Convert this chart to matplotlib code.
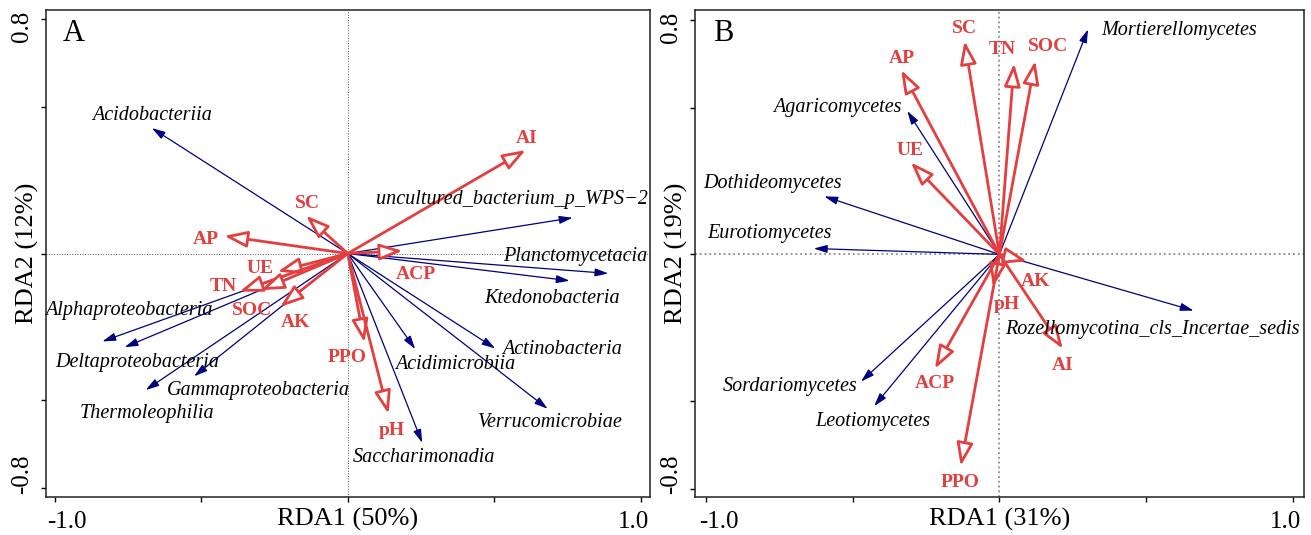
import matplotlib
matplotlib.use("Agg")
import matplotlib.pyplot as plt
from matplotlib.patches import FancyArrowPatch

plt.rcParams['font.family'] = ['Liberation Serif', 'DejaVu Serif']

# ---- panel A: bacteria ----
a_sp_names = ['Acidobacteriia', 'uncultured_bacterium_p_WPS\u22122', 'Planctomycetacia',
              'Ktedonobacteria', 'Actinobacteria', 'Verrucomicrobiae', 'Acidimicrobiia',
              'Saccharimonadia', 'Alphaproteobacteria', 'Deltaproteobacteria',
              'Thermoleophilia', 'Gammaproteobacteria']
a_sp_x = [-0.668, 0.767, 0.889, 0.757, 0.503, 0.682, 0.230, 0.254, -0.837, -0.761, -0.689, -0.524]
a_sp_y = [0.428, 0.122, -0.068, -0.093, -0.324, -0.530, -0.326, -0.646, -0.300, -0.320, -0.466, -0.419]
a_sp_lx = [-0.669, 0.559, 0.776, 0.697, 0.730, 0.690, 0.368, 0.261, -0.746, -0.717, -0.684, -0.306]
a_sp_ly = [0.470, 0.186, -0.010, -0.153, -0.329, -0.578, -0.378, -0.697, -0.194, -0.373, -0.547, -0.469]

a_env_names = ['AI', 'SC', 'AP', 'ACP', 'UE', 'TN', 'SOC', 'AK', 'PPO', 'pH']
a_env_x = [0.607, -0.142, -0.421, 0.187, -0.239, -0.369, -0.296, -0.230, 0.057, 0.139]
a_env_y = [0.353, 0.129, 0.060, 0.009, -0.062, -0.130, -0.125, -0.182, -0.303, -0.547]
a_env_lx = [0.610, -0.139, -0.483, 0.232, -0.299, -0.425, -0.327, -0.179, -0.003, 0.149]
a_env_ly = [0.391, 0.171, 0.048, -0.071, -0.050, -0.112, -0.194, -0.235, -0.354, -0.604]

# ---- panel B: fungi ----
b_sp_names = ['Mortierellomycetes', 'Agaricomycetes', 'Dothideomycetes', 'Eurotiomycetes',
              'Rozellomycotina_cls_Incertae_sedis', 'Sordariomycetes', 'Leotiomycetes']
b_sp_x = [0.302, -0.314, -0.597, -0.633, 0.662, -0.472, -0.427]
b_sp_y = [0.768, 0.489, 0.198, 0.020, -0.192, -0.434, -0.518]
b_sp_lx = [0.611, -0.552, -0.773, -0.784, 0.520, -0.712, -0.433]
b_sp_ly = [0.763, 0.500, 0.242, 0.070, -0.257, -0.452, -0.569]

b_env_names = ['SC', 'AP', 'TN', 'SOC', 'UE', 'AK', 'pH', 'AI', 'ACP', 'PPO']
b_env_x = [-0.119, -0.335, 0.050, 0.122, -0.302, 0.094, -0.022, 0.216, -0.220, -0.132]
b_env_y = [0.728, 0.629, 0.652, 0.660, 0.314, -0.023, -0.111, -0.322, -0.390, -0.722]
b_env_lx = [-0.120, -0.332, 0.008, 0.166, -0.306, 0.123, 0.025, 0.217, -0.221, -0.133]
b_env_ly = [0.771, 0.667, 0.699, 0.711, 0.356, -0.094, -0.171, -0.378, -0.442, -0.780]

RED = '#E53E3E'
NAVY = '#000080'


def draw_panel(ax, letter, xlab, ylab, sp, env, zero_style):
    sp_names, sp_x, sp_y, sp_lx, sp_ly = sp
    env_names, env_x, env_y, env_lx, env_ly = env
    # zero lines
    ax.axhline(0, zorder=1, **zero_style)
    ax.axvline(0, zorder=1, **zero_style)
    # species vectors (thin navy, filled small head)
    for n, x, y, lx, ly in zip(sp_names, sp_x, sp_y, sp_lx, sp_ly):
        arr = FancyArrowPatch((0, 0), (x, y), arrowstyle='-|>,head_length=8,head_width=2.4',
                              mutation_scale=1, lw=0.9, color=NAVY, shrinkA=0, shrinkB=0, zorder=3)
        ax.add_patch(arr)
        ax.text(lx, ly, n, style='italic', fontsize=14.5, ha='center', va='center', zorder=5)
    # environment vectors (thick red, open head)
    for n, x, y, lx, ly in zip(env_names, env_x, env_y, env_lx, env_ly):
        arr = FancyArrowPatch((0, 0), (x, y), arrowstyle='-|>,head_length=14,head_width=5',
                              mutation_scale=1, lw=2.0, ec=RED, fc='white', shrinkA=0, shrinkB=0,
                              zorder=4)
        ax.add_patch(arr)
        ax.text(lx, ly, n, color=RED, fontweight='bold', fontsize=14, ha='center', va='center',
                zorder=5)

    ax.text(0.046, 0.952, letter, transform=ax.transAxes, fontsize=22, ha='center', va='center')

    ax.set_xticks([-1.0, -0.5, 0.0, 0.5, 1.0])
    ax.set_yticks([-0.8, -0.5, 0.0, 0.5, 0.8])
    ax.set_xticklabels([])
    ax.set_yticklabels([])
    # labels sit a bit inward of their ticks, as in the original
    ax.set_xticks([-0.957, 0.974], labels=['-1.0', '1.0'], minor=True)
    ax.set_yticks([-0.752, 0.774], labels=['-0.8', '0.8'], minor=True)
    ax.tick_params(which='major', direction='out', length=3.5, width=1.0)
    ax.tick_params(which='minor', length=0, labelsize=18)
    ax.tick_params(axis='x', which='minor', pad=10)
    ax.tick_params(axis='y', which='minor', pad=9, labelrotation=90)
    for lab in ax.get_yticklabels(minor=True):
        lab.set_va('center')

    ax.set_xlabel(xlab, fontsize=19)
    ax.set_ylabel(ylab, fontsize=19)
    ax.xaxis.set_label_coords(0.5, -0.047)
    ax.xaxis.label.set_va('center')
    ax.yaxis.set_label_coords(-0.031, 0.5)
    ax.yaxis.label.set_va('center')
    for s in ax.spines.values():
        s.set_linewidth(1.1)
        s.set_color('#222222')


fig = plt.figure(figsize=(13.11, 5.35), dpi=100)
axA = fig.add_axes([0.0349, 0.0710, 0.4609, 0.9103])
axB = fig.add_axes([0.5301, 0.0710, 0.4645, 0.9103])

draw_panel(axA, 'A', 'RDA1 (50%)', 'RDA2 (12%)',
           (a_sp_names, a_sp_x, a_sp_y, a_sp_lx, a_sp_ly),
           (a_env_names, a_env_x, a_env_y, a_env_lx, a_env_ly),
           dict(color='#555555', lw=0.7, ls=':'))
axA.set_xlim(-1.030, 1.031)
axA.set_ylim(-0.831, 0.831)

draw_panel(axB, 'B', 'RDA1 (31%)', 'RDA2 (19%)',
           (b_sp_names, b_sp_x, b_sp_y, b_sp_lx, b_sp_ly),
           (b_env_names, b_env_x, b_env_y, b_env_lx, b_env_ly),
           dict(color='#8a8a8a', lw=1.3, ls=':'))
axB.set_xlim(-1.038, 1.038)
axB.set_ylim(-0.828, 0.834)

fig.savefig('out.png', dpi=100)
